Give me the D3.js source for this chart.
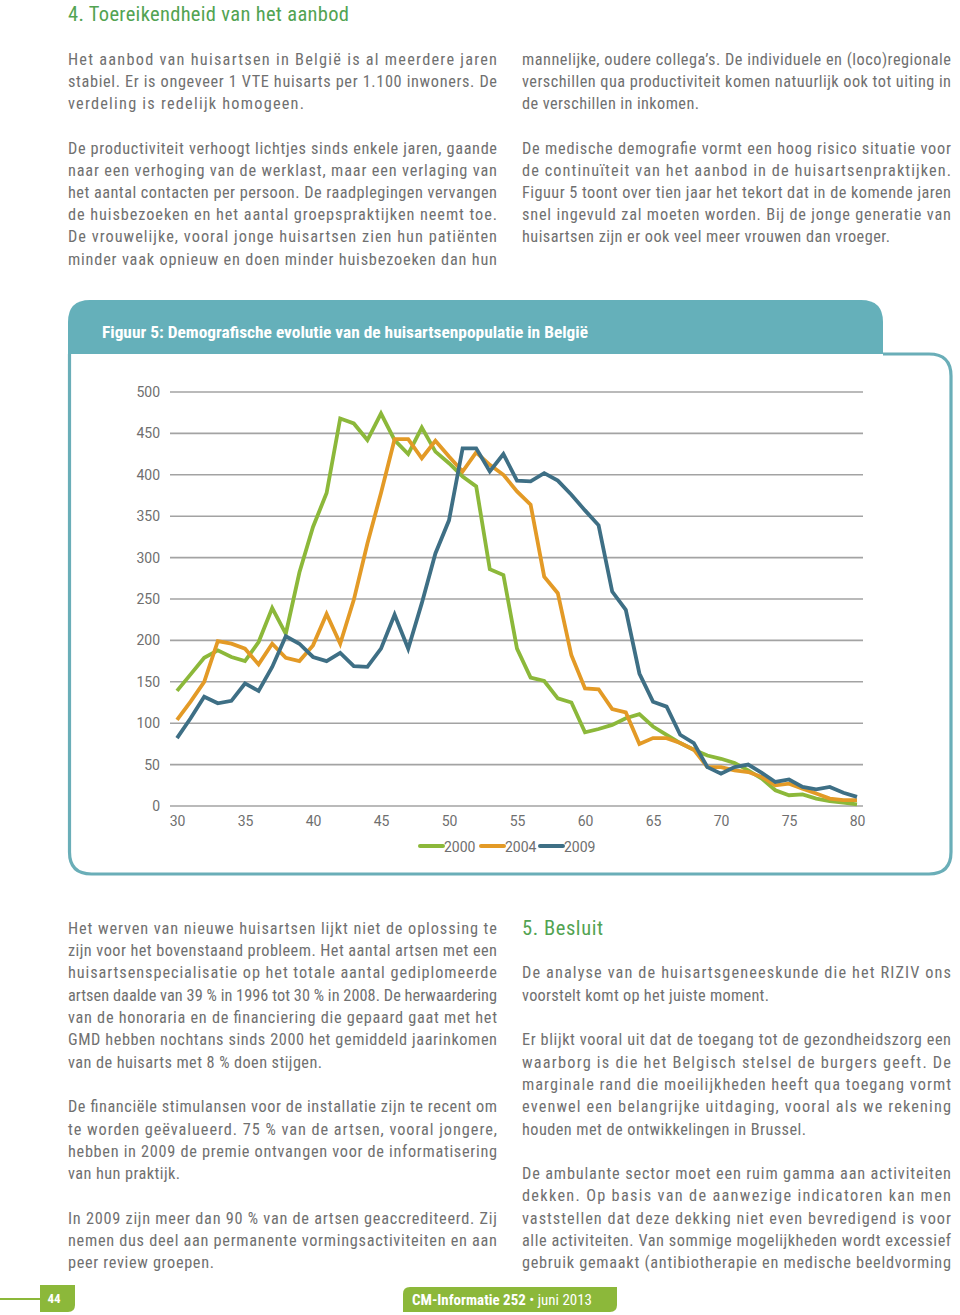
<!DOCTYPE html>
<html><head><meta charset="utf-8">
<script src="https://cdn.jsdelivr.net/npm/d3@7"></script>
<style>
body{margin:0;background:#fff;}
svg{display:block;}
</style></head>
<body>
<svg id="page" width="960" height="1315"></svg>
<script>
// ---- chart data ----
const ages = d3.range(30, 81);
const series2000 = [139,159,179,188,180,175,198,239,208,282, 337,378,468,462,442,474,442,425,457,428, 414,398,386,286,279,190,155,151,130,125, 89,93,98,106,111,96,86,76,68,61, 57,52,43,33,19,13,14,9,6,4,2];
const series2004 = [104,126,150,199,196,190,171,196,179,175, 194,232,196,249,317,378,443,443,420,441, 422,404,427,412,400,380,364,277,257,182, 142,141,117,113,75,82,82,76,68,47, 47,43,41,35,25,27,21,15,9,7,7];
const series2009 = [82,106,132,124,127,148,139,168,205,196, 180,175,185,169,168,190,231,190,245,305, 345,432,432,404,425,393,392,402,393,376, 357,339,259,237,160,126,120,86,76,47, 39,47,50,40,29,32,23,20,23,16,11];
const seriesNames = ["2000","2004","2009"];
const yTicks = [0,50,100,150,200,250,300,350,400,450,500];
const xTickLabels = [30,35,40,45,50,55,60,65,70,75,80];
const chartTitle = "Figuur 5: Demografische evolutie van de huisartsenpopulatie in België";

// ---- page text ----
const upperLeft = [
 ["Het aanbod van huisartsen in België is al meerdere jaren", 497],
 ["stabiel. Er is ongeveer 1 VTE huisarts per 1.100 inwoners. De", 497],
 ["verdeling is redelijk homogeen.", 304],
 null,
 ["De productiviteit verhoogt lichtjes sinds enkele jaren, gaande", 497],
 ["naar een verhoging van de werklast, maar een verlaging van", 497],
 ["het aantal contacten per persoon. De raadplegingen vervangen", 497],
 ["de huisbezoeken en het aantal groepspraktijken neemt toe.", 497],
 ["De vrouwelijke, vooral jonge huisartsen zien hun patiënten", 497],
 ["minder vaak opnieuw en doen minder huisbezoeken dan hun", 497]
];
const upperRight = [
 ["mannelijke, oudere collega’s. De individuele en (loco)regionale", 951],
 ["verschillen qua productiviteit komen natuurlijk ook tot uiting in", 951],
 ["de verschillen in inkomen.", 699],
 null,
 ["De medische demografie vormt een hoog risico situatie voor", 951],
 ["de continuïteit van het aanbod in de huisartsenpraktijken.", 951],
 ["Figuur 5 toont over tien jaar het tekort dat in de komende jaren", 951],
 ["snel ingevuld zal moeten worden. Bij de jonge generatie van", 951],
 ["huisartsen zijn er ook veel meer vrouwen dan vroeger.", 890]
];
const lowerLeft = [
 ["Het werven van nieuwe huisartsen lijkt niet de oplossing te", 497],
 ["zijn voor het bovenstaand probleem. Het aantal artsen met een", 497],
 ["huisartsenspecialisatie op het totale aantal gediplomeerde", 497],
 ["artsen daalde van 39 % in 1996 tot 30 % in 2008. De herwaardering", 497],
 ["van de honoraria en de financiering die gepaard gaat met het", 497],
 ["GMD hebben nochtans sinds 2000 het gemiddeld jaarinkomen", 497],
 ["van de huisarts met 8 % doen stijgen.", 322],
 null,
 ["De financiële stimulansen voor de installatie zijn te recent om", 497],
 ["te worden geëvalueerd. 75 % van de artsen, vooral jongere,", 497],
 ["hebben in 2009 de premie ontvangen voor de informatisering", 497],
 ["van hun praktijk.", 180],
 null,
 ["In 2009 zijn meer dan 90 % van de artsen geaccrediteerd. Zij", 497],
 ["nemen dus deel aan permanente vormingsactiviteiten en aan", 497],
 ["peer review groepen.", 214]
];
const lowerRight = [
 null,
 null,
 ["De analyse van de huisartsgeneeskunde die het RIZIV ons", 951],
 ["voorstelt komt op het juiste moment.", 769],
 null,
 ["Er blijkt vooral uit dat de toegang tot de gezondheidszorg een", 951],
 ["waarborg is die het Belgisch stelsel de burgers geeft. De", 951],
 ["marginale rand die moeilijkheden heeft qua toegang vormt", 951],
 ["evenwel een belangrijke uitdaging, vooral als we rekening", 951],
 ["houden met de ontwikkelingen in Brussel.", 806],
 null,
 ["De ambulante sector moet een ruim gamma aan activiteiten", 951],
 ["dekken. Op basis van de aanwezige indicatoren kan men", 951],
 ["vaststellen dat deze dekking niet even bevredigend is voor", 951],
 ["alle activiteiten. Van sommige mogelijkheden wordt excessief", 951],
 ["gebruik gemaakt (antibiotherapie en medische beeldvorming", 951]
];

const svg = d3.select("#page");
const FONT = "'Liberation Sans Narrow','Roboto Condensed','Roboto',sans-serif";
const textGrey = "#707070";
const green = "#8cb83a";
const teal = "#65b0ba";

function drawBlock(lines, x0, y0, lh) {
  lines.forEach((l, i) => {
    if (!l) return;
    svg.append("text")
      .attr("x", x0).attr("y", y0 + i * lh)
      .attr("font-family", FONT).attr("font-size", 16.3)
      .attr("fill", textGrey)
      .attr("textLength", l[1] - x0)
      .attr("lengthAdjust", "spacing")
      .text(l[0]);
  });
}
drawBlock(upperLeft, 68, 64.8, 22.2);
drawBlock(upperRight, 522, 64.8, 22.2);
drawBlock(lowerLeft, 68, 933.8, 22.3);
drawBlock(lowerRight, 522, 933.8, 22.3);

// headings
svg.append("text").attr("x", 68).attr("y", 21).attr("font-family", FONT)
  .attr("font-size", 20.5).attr("fill", "#52a352")
  .attr("textLength", 281).attr("lengthAdjust", "spacing")
  .text("4.  Toereikendheid van het aanbod");
svg.append("text").attr("x", 522).attr("y", 935).attr("font-family", FONT)
  .attr("font-size", 20.5).attr("fill", "#52a352")
  .attr("textLength", 81).attr("lengthAdjust", "spacing")
  .text("5.  Besluit");

// ---- chart panel ----
svg.append("path")
  .attr("d", "M68,354 L68,322 Q68,300 90,300 L861,300 Q883,300 883,322 L883,354 Z")
  .attr("fill", teal);
svg.append("path")
  .attr("d", "M69.5,354 L69.5,852 Q69.5,874 91.5,874 L929,874 Q951,874 951,852 L951,376 Q951,354 929,354 L883,354")
  .attr("fill", "none").attr("stroke", "#6aaeb8").attr("stroke-width", 3.2);
svg.append("text").attr("x", 102).attr("y", 338).attr("font-family", FONT)
  .attr("font-size", 17).attr("font-weight", "bold").attr("fill", "#fff")
  .attr("textLength", 486).attr("lengthAdjust", "spacingAndGlyphs")
  .text(chartTitle);

// scales
const x = d3.scalePoint().domain(ages).range([170.2, 863.8]).padding(0.5);
const y = d3.scaleLinear().domain([0, 500]).range([806, 392]);

const g = svg.append("g");
g.selectAll("line.grid").data(yTicks).join("line")
  .attr("x1", 170).attr("x2", 863)
  .attr("y1", d => y(d)).attr("y2", d => y(d))
  .attr("stroke", "#a3a3a3").attr("stroke-width", 1.6);

const yAxis = d3.axisLeft(y).tickValues(yTicks).tickSize(0).tickPadding(0);
const ya = g.append("g").attr("transform", "translate(160,0)").call(yAxis);
ya.select(".domain").remove();
ya.selectAll("text").attr("font-family", "Roboto,sans-serif").attr("font-size", 14).attr("fill", "#6f6f6f");

const xAxis = d3.axisBottom(x).tickValues(xTickLabels).tickSize(0).tickPadding(0);
const xa = g.append("g").attr("transform", "translate(0,816)").call(xAxis);
xa.select(".domain").remove();
xa.selectAll("text").attr("font-family", "Roboto,sans-serif").attr("font-size", 14).attr("fill", "#6f6f6f");

const colors = ["#8cb83a", "#e39a26", "#3e6f85"];
const allSeries = [series2000, series2004, series2009];
const line = d3.line().x((d, i) => x(ages[i])).y(d => y(d));
allSeries.forEach((s, k) => {
  g.append("path").datum(s).attr("d", line)
    .attr("fill", "none").attr("stroke", colors[k]).attr("stroke-width", 3.8)
    .attr("stroke-linejoin", "miter").attr("stroke-linecap", "butt");
});

const legendX = [420, 481, 540];
seriesNames.forEach((n, k) => {
  g.append("line").attr("x1", legendX[k]).attr("x2", legendX[k] + 23)
    .attr("y1", 846).attr("y2", 846).attr("stroke", colors[k]).attr("stroke-width", 4)
    .attr("stroke-linecap", "round");
  g.append("text").attr("x", legendX[k] + 24).attr("y", 851.5)
    .attr("font-family", "Roboto,sans-serif").attr("font-size", 14).attr("fill", "#6f6f6f")
    .text(n);
});

// ---- footer ----
svg.append("line").attr("x1", 0).attr("x2", 40).attr("y1", 1299).attr("y2", 1299)
  .attr("stroke", green).attr("stroke-width", 2);
svg.append("path").attr("d", "M40,1285 L75,1285 L75,1305 Q75,1312 68,1312 L40,1312 Z").attr("fill", green);
svg.append("text").attr("x", 54).attr("y", 1303).attr("text-anchor", "middle")
  .attr("font-family", FONT).attr("font-size", 13).attr("font-weight", "bold").attr("fill", "#fff").text("44");
svg.append("path").attr("d", "M410,1287 L617,1287 L617,1305 Q617,1312 610,1312 L403,1312 L403,1294 Q403,1287 410,1287 Z").attr("fill", green);
const ft = svg.append("text").attr("x", 412).attr("y", 1305)
  .attr("font-family", FONT).attr("font-size", 15).attr("fill", "#fff")
  .attr("textLength", 180).attr("lengthAdjust", "spacingAndGlyphs");
ft.append("tspan").attr("font-weight", "bold").text("CM-Informatie 252");
ft.append("tspan").text(" • juni 2013");
</script>
</body></html>
